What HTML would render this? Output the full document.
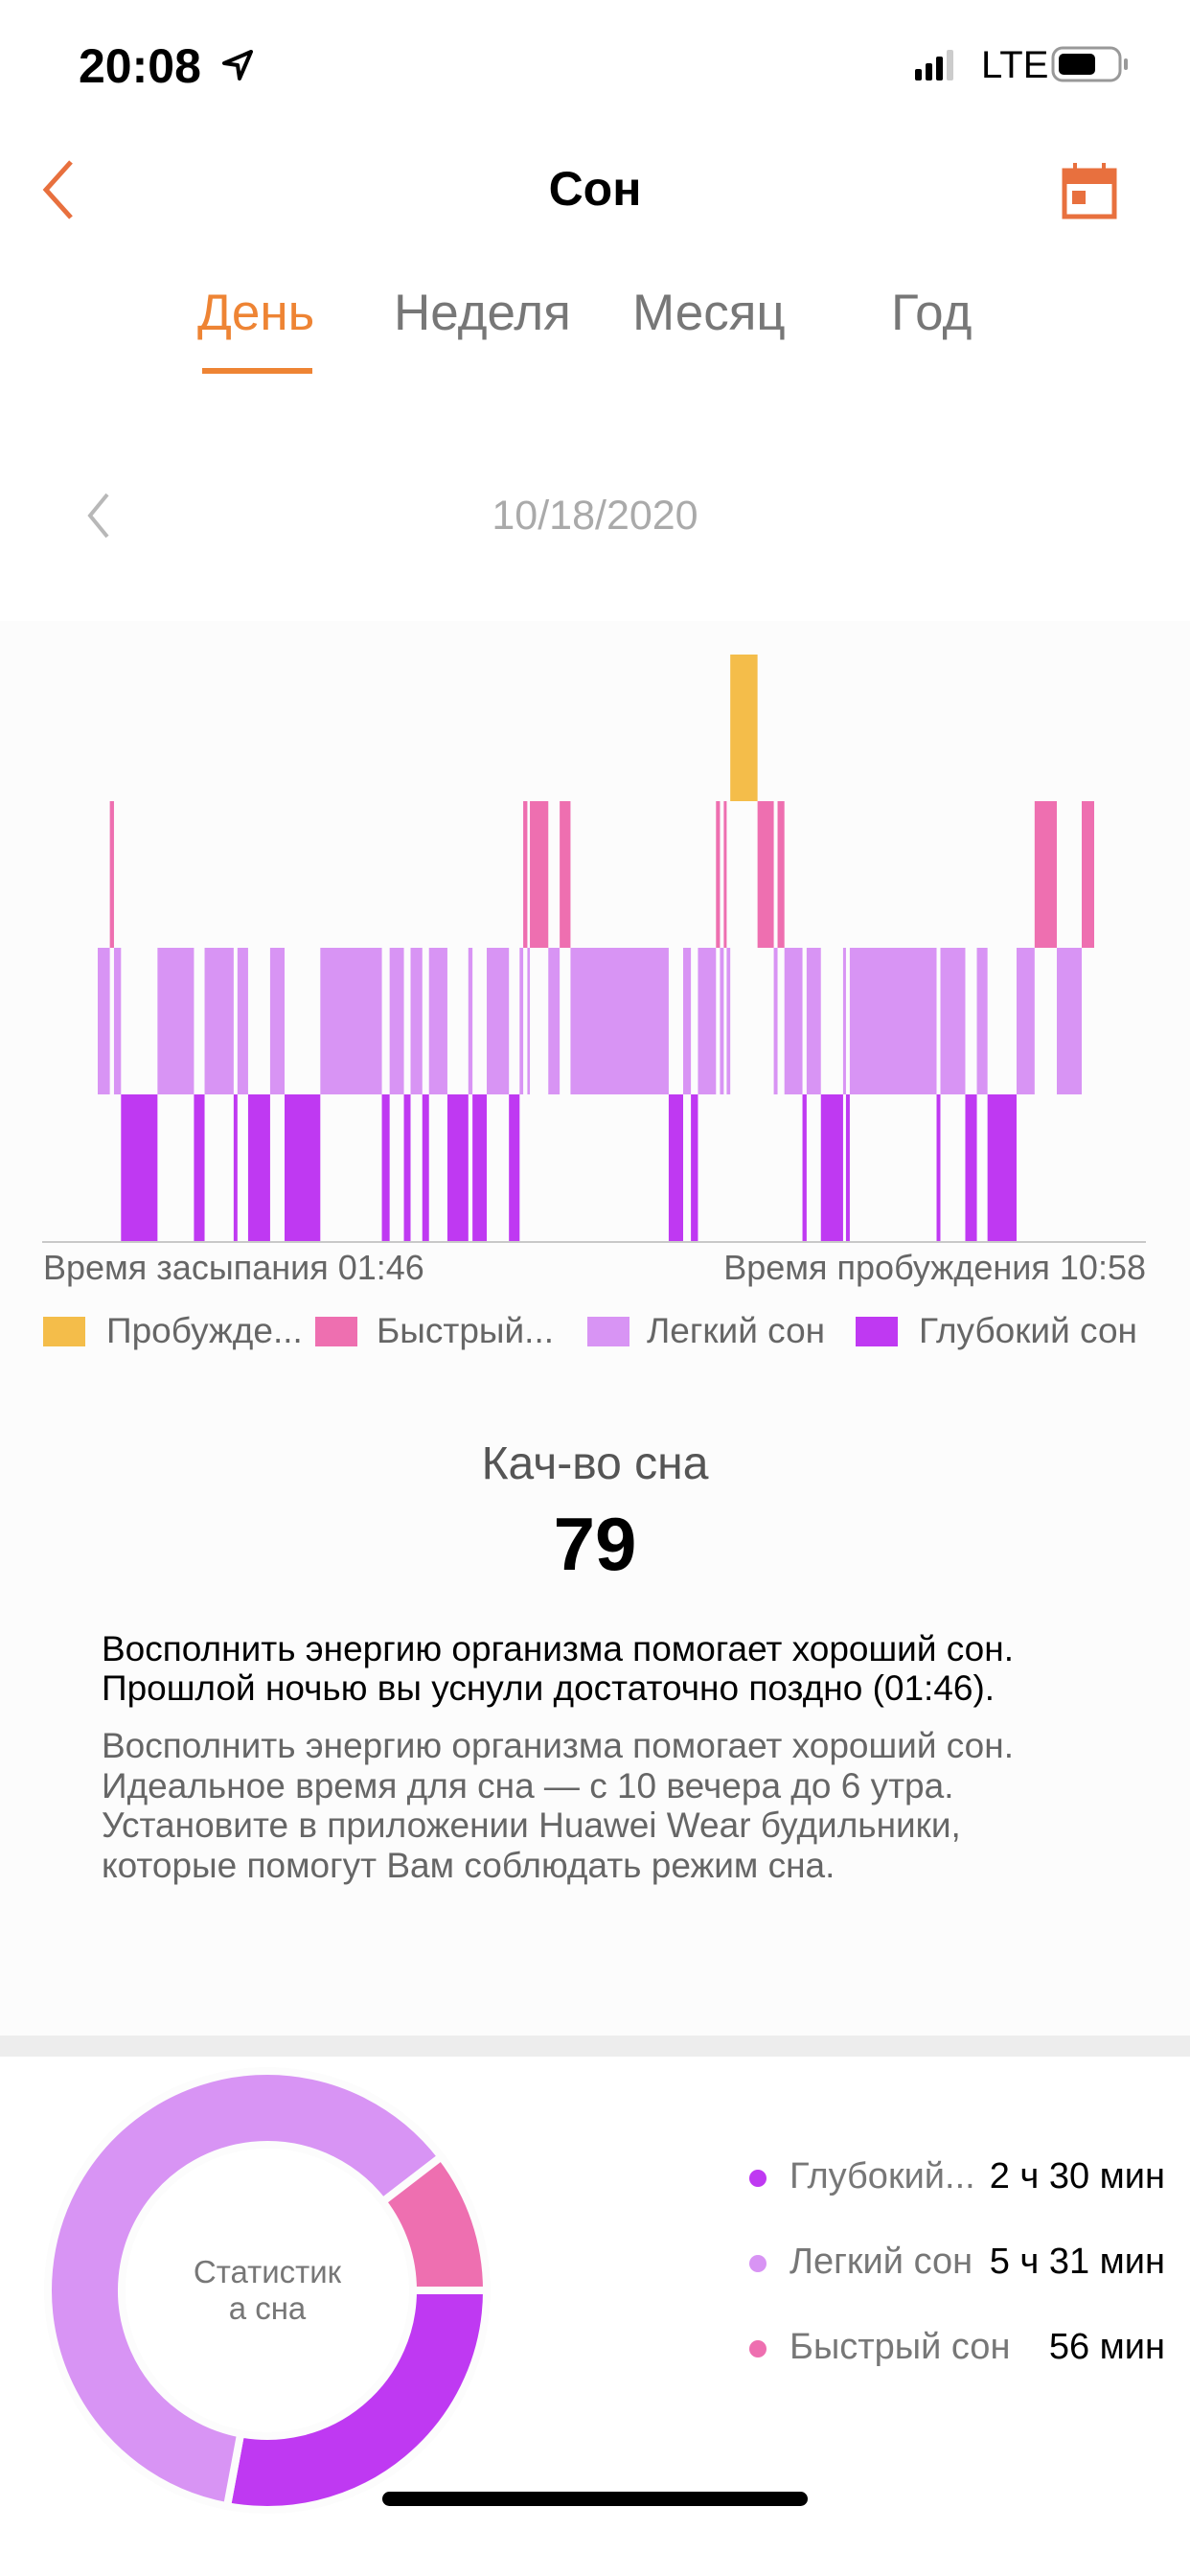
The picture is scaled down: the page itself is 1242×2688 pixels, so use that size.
<!DOCTYPE html>
<html><head><meta charset="utf-8"><style>
*{margin:0;padding:0;box-sizing:border-box}
body{width:1242px;height:2688px;background:#fff;font-family:"Liberation Sans",sans-serif;position:relative;overflow:hidden}
.a{position:absolute;white-space:nowrap}
</style></head><body>
<div class="a" style="left:82px;top:40px;font-size:50px;font-weight:bold;color:#000">20:08</div>
<svg class="a" style="left:230px;top:50px" width="36" height="36" viewBox="0 0 36 36"><path d="M32 4 L4 16 L18 18 L20 32 Z" fill="none" stroke="#000" stroke-width="4" stroke-linejoin="round"/></svg>
<svg class="a" style="left:955px;top:50px" width="44" height="34"><rect x="0" y="22" width="7" height="12" rx="2"/><rect x="11" y="16" width="7" height="18" rx="2"/><rect x="22" y="9" width="7" height="25" rx="2"/><rect x="33" y="2" width="7" height="32" rx="2" fill="#ccc"/></svg>
<div class="a" style="left:1024px;top:46px;font-size:40px;color:#000">LTE</div>
<svg class="a" style="left:1097px;top:48px" width="84" height="40"><rect x="2" y="2" width="70" height="34" rx="10" fill="none" stroke="#999" stroke-width="3"/><rect x="8" y="8" width="38" height="22" rx="5" fill="#000"/><rect x="76" y="13" width="4" height="12" rx="2" fill="#999"/></svg>

<svg class="a" style="left:40px;top:165px" width="40" height="66"><path d="M34 4 L8 33 L34 62" fill="none" stroke="#e8703e" stroke-width="5"/></svg>
<div class="a" style="left:0;width:1242px;text-align:center;top:168px;font-size:50px;font-weight:bold;color:#000">Сон</div>
<svg class="a" style="left:1108px;top:168px" width="58" height="62"><rect x="3" y="10" width="52" height="48" fill="none" stroke="#e8703e" stroke-width="5"/><rect x="3" y="10" width="52" height="14" fill="#e8703e"/><rect x="12" y="2" width="4" height="10" fill="#e8703e"/><rect x="42" y="2" width="4" height="10" fill="#e8703e"/><rect x="11" y="31" width="14" height="14" fill="#e8703e"/></svg>

<div class="a" style="left:206px;top:296px;font-size:53px;color:#ee8434">День</div>
<div class="a" style="left:211px;top:384px;width:115px;height:6px;background:#ee8434"></div>
<div class="a" style="left:411px;top:296px;font-size:53px;color:#777">Неделя</div>
<div class="a" style="left:660px;top:296px;font-size:53px;color:#777">Месяц</div>
<div class="a" style="left:930px;top:296px;font-size:53px;color:#777">Год</div>

<svg class="a" style="left:88px;top:512px" width="30" height="52"><path d="M24 4 L6 26 L24 48" fill="none" stroke="#b8b8b8" stroke-width="4"/></svg>
<div class="a" style="left:0;width:1242px;text-align:center;top:514px;font-size:43px;color:#aaa">10/18/2020</div>

<div class="a" style="left:0;top:648px;width:1242px;height:1476px;background:#fcfcfc"></div>
<svg class="a" id="chart" style="left:0;top:648px" width="1242" height="670"></svg>
<div class="a" style="left:45px;top:1302px;font-size:36px;color:#666">Время засыпания 01:46</div>
<div class="a" style="right:46px;top:1302px;font-size:36px;color:#666">Время пробуждения 10:58</div>

<div class="a" style="left:45px;top:1366px;font-size:37px;color:#666"><span style="display:inline-block;width:44px;height:31px;background:#f4bd4a;vertical-align:middle"></span><span style="margin-left:22px;vertical-align:middle">Пробужде...</span></div>
<div class="a" style="left:329px;top:1366px;font-size:37px;color:#666"><span style="display:inline-block;width:44px;height:31px;background:#ee6fb0;vertical-align:middle"></span><span style="margin-left:20px;vertical-align:middle">Быстрый...</span></div>
<div class="a" style="left:613px;top:1366px;font-size:37px;color:#666"><span style="display:inline-block;width:44px;height:31px;background:#d894f4;vertical-align:middle"></span><span style="margin-left:18px;vertical-align:middle">Легкий сон</span></div>
<div class="a" style="left:893px;top:1366px;font-size:37px;color:#666"><span style="display:inline-block;width:44px;height:31px;background:#bf39f2;vertical-align:middle"></span><span style="margin-left:22px;vertical-align:middle">Глубокий сон</span></div>

<div class="a" style="left:0;width:1242px;text-align:center;top:1500px;font-size:48px;color:#555">Кач-во сна</div>
<div class="a" style="left:0;width:1242px;text-align:center;top:1566px;font-size:78px;font-weight:bold;color:#000">79</div>
<div class="a" style="left:106px;top:1700px;font-size:37px;line-height:41px;color:#000">Восполнить энергию организма помогает хороший сон.<br>Прошлой ночью вы уснули достаточно поздно (01:46).</div>
<div class="a" style="left:106px;top:1801px;font-size:37px;line-height:41.5px;color:#666">Восполнить энергию организма помогает хороший сон.<br>Идеальное время для сна — с 10 вечера до 6 утра.<br>Установите в приложении Huawei Wear будильники,<br>которые помогут Вам соблюдать режим сна.</div>

<div class="a" style="left:0;top:2124px;width:1242px;height:22px;background:#ededed"></div>

<svg class="a" id="donut" style="left:0;top:2146px" width="560" height="500"></svg>
<div class="a" style="left:159px;width:240px;text-align:center;top:2352px;font-size:33px;line-height:38px;color:#777;white-space:normal">Статистик<br>а сна</div>

<div class="a" style="left:782px;top:2250px;width:434px;font-size:38px;color:#777"><span style="display:inline-block;width:18px;height:18px;border-radius:50%;background:#bf39f2;vertical-align:middle"></span><span style="margin-left:24px">Глубокий...</span><span style="position:absolute;right:0;color:#000">2 ч 30 мин</span></div>
<div class="a" style="left:782px;top:2339px;width:434px;font-size:38px;color:#777"><span style="display:inline-block;width:18px;height:18px;border-radius:50%;background:#d894f4;vertical-align:middle"></span><span style="margin-left:24px">Легкий сон</span><span style="position:absolute;right:0;color:#000">5 ч 31 мин</span></div>
<div class="a" style="left:782px;top:2428px;width:434px;font-size:38px;color:#777"><span style="display:inline-block;width:18px;height:18px;border-radius:50%;background:#ee6fb0;vertical-align:middle"></span><span style="margin-left:24px">Быстрый сон</span><span style="position:absolute;right:0;color:#000">56 мин</span></div>

<div class="a" style="left:399px;top:2600px;width:444px;height:15px;border-radius:8px;background:#000"></div>

<script>
// Sleep stage chart data (minutes since 01:46)
const stageNames = ["Пробуждение","Быстрый сон","Легкий сон","Глубокий сон"];
const stageColors = ["#f4bd4a","#ee6fb0","#d894f4","#bf39f2"];
const segStage = [2,1,2,3,2,3,2,3,2,3,2,3,2,3,2,3,2,3,2,3,2,3,2,3,2,1,2,1,2,1,2,3,2,3,2,1,2,1,2,0,1,2,1,2,3,2,3,2,3,2,3,2,3,2,3,2,1,2,1];
const segStart = [0,6.7,9,12.9,33.1,53.3,59.2,75.3,77.4,83.3,95.5,103.5,123.3,157.4,161.7,169.6,173.3,179.8,183.5,193.7,205.3,207.6,215.5,227.8,233.7,235.7,238,239.4,249.6,255.9,261.9,316.3,324.3,328.6,332.5,342.5,344.7,346.8,348.4,350.4,365.5,374.5,376.6,380.4,390.4,392.7,400.6,412.9,414.5,416.6,464.7,466.8,480.6,487,492.9,509,519,531.3,545.1];
const totalMinutes = 552;

const svgNS="http://www.w3.org/2000/svg";
const chart=document.getElementById('chart');
const X0=102, X1=1142, ROW_TOP=35, ROW_H=153;
function xScale(m){return X0+(m/totalMinutes)*(X1-X0);}
function yRow(s){return ROW_TOP+s*ROW_H;}
for(let i=0;i<segStage.length;i++){
  const s=segStage[i];
  const st=segStart[i];
  const en=i+1<segStart.length?segStart[i+1]:totalMinutes;
  const r=document.createElementNS(svgNS,'rect');
  r.setAttribute('x',xScale(st));
  r.setAttribute('width',Math.max(xScale(en)-xScale(st),1));
  r.setAttribute('y',yRow(s));
  r.setAttribute('height',ROW_H);
  r.setAttribute('fill',stageColors[s]);
  
  
  chart.appendChild(r);
}
const ax=document.createElementNS(svgNS,'line');
ax.setAttribute('x1',44);ax.setAttribute('x2',1196);
ax.setAttribute('y1',yRow(4)+1);ax.setAttribute('y2',yRow(4)+1);
ax.setAttribute('stroke','#c8c8c8');ax.setAttribute('stroke-width',2);


chart.appendChild(ax);

// Donut data
const donutLabels = ["Глубокий сон","Легкий сон","Быстрый сон"];
const donutMinutes = [150,331,56];
const donutColors = ["#bf39f2","#d894f4","#ee6fb0"];
const donut=document.getElementById('donut');
const CX=279, CY=244, RO=229, RI=152;
const tot=donutMinutes.reduce((a,b)=>a+b,0);
let ang=0;
function pt(r,a){return [CX+r*Math.cos(a),CY+r*Math.sin(a)];}
for(let i=0;i<donutMinutes.length;i++){
  const a0=ang, a1=ang+donutMinutes[i]/tot*2*Math.PI;
  ang=a1;
  const large=(a1-a0)>Math.PI?1:0;
  const p0=pt(RO,a0),p1=pt(RO,a1),p2=pt(RI,a1),p3=pt(RI,a0);
  const p=document.createElementNS(svgNS,'path');
  p.setAttribute('d',`M${p0} A${RO},${RO} 0 ${large} 1 ${p1} L${p2} A${RI},${RI} 0 ${large} 0 ${p3} Z`);
  p.setAttribute('fill',donutColors[i]);
  p.setAttribute('stroke','#fcfcfc');
  p.setAttribute('stroke-width',8);
  
  
  donut.appendChild(p);
}
</script>
</body></html>
